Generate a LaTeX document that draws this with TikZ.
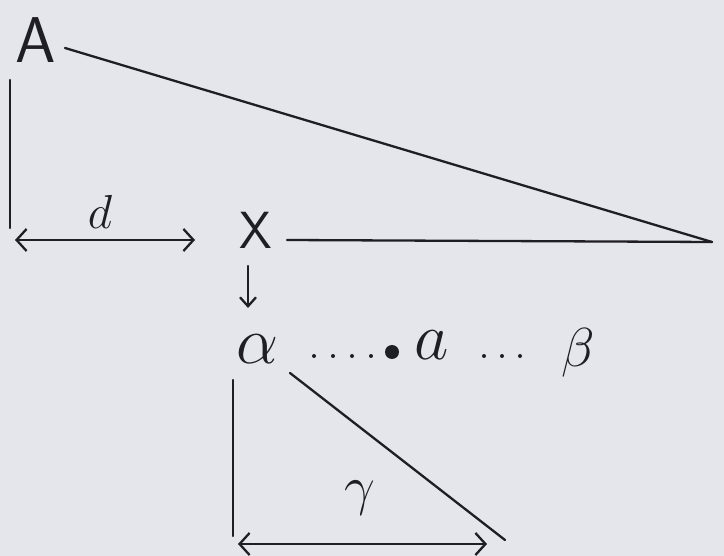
\documentclass[tikz,border=0pt]{standalone}
\usetikzlibrary{arrows.meta}
\definecolor{paper}{HTML}{E4E6EC}
\definecolor{ink}{HTML}{1E1E24}
\begin{document}
\begin{tikzpicture}[x=1pt,y=-1pt,
  ink line/.style={draw=ink,line width=2.3pt,line cap=round},
  dblarrow/.style={ink line,{Straight Barb[length=10pt,width=22pt]}-{Straight Barb[length=10pt,width=22pt]}},
  downarrow/.style={ink line,-{Straight Barb[length=9pt,width=16pt]}},
  smalldot/.style={fill=ink},
  lbl/.style={text=ink,inner sep=0pt,font=\huge,scale=2.3},
  biglbl/.style={text=ink,inner sep=0pt,font=\sffamily\huge,scale=2.4}]
\fill[paper] (0,0) rectangle (724,556);
\useasboundingbox (0,0) rectangle (724,556);
% labels
\node[biglbl,scale=1.3] (A) at (36,40) {A};
\node[biglbl,scale=1.05] (X) at (256,230) {X};
\node[lbl] (d) at (100,212) {$d$};
\node[lbl,scale=1.4] (alpha) at (258,349) {$\alpha$};
\node[lbl,scale=1.4] (a) at (432,345) {$a$};
\node[lbl,scale=1.15] (beta) at (578,353) {$\beta$};
\node[lbl,scale=1.15] (gamma) at (360,498) {$\gamma$};
\fill[ink] (392,352) circle (7pt) coordinate (dot);
% dotted runs
\foreach \x in {314,333,352,371} \fill[smalldot] (\x,356) circle (2pt);
\foreach \x in {484,502,520} \fill[smalldot] (\x,356) circle (2pt);
% coordinates
\coordinate (Aend) at (65,48);
\coordinate (apex) at (712,242);
\coordinate (Xend) at (287,240);
\coordinate (vtop) at (10,80);
\coordinate (vbot) at (10,228);
\coordinate (dl) at (15,240);
\coordinate (dr) at (195,240);
\coordinate (arrtop) at (248,266);
\coordinate (arrbot) at (248,308);
\coordinate (ttop) at (233,380);
\coordinate (tbot) at (233,536);
\coordinate (hyps) at (290,373);
\coordinate (hype) at (505,540);
\coordinate (gl) at (238,544);
\coordinate (gr) at (487,544);
% lines
\draw[ink line] (Aend) -- (apex);
\draw[ink line] (Xend) -- (apex);
\draw[ink line] (vtop) -- (vbot);
\draw[dblarrow] (dl) -- (dr);
\draw[downarrow] (arrtop) -- (arrbot);
\draw[ink line] (ttop) -- (tbot);
\draw[ink line] (hyps) -- (hype);
\draw[dblarrow] (gl) -- (gr);
\end{tikzpicture}
\end{document}
